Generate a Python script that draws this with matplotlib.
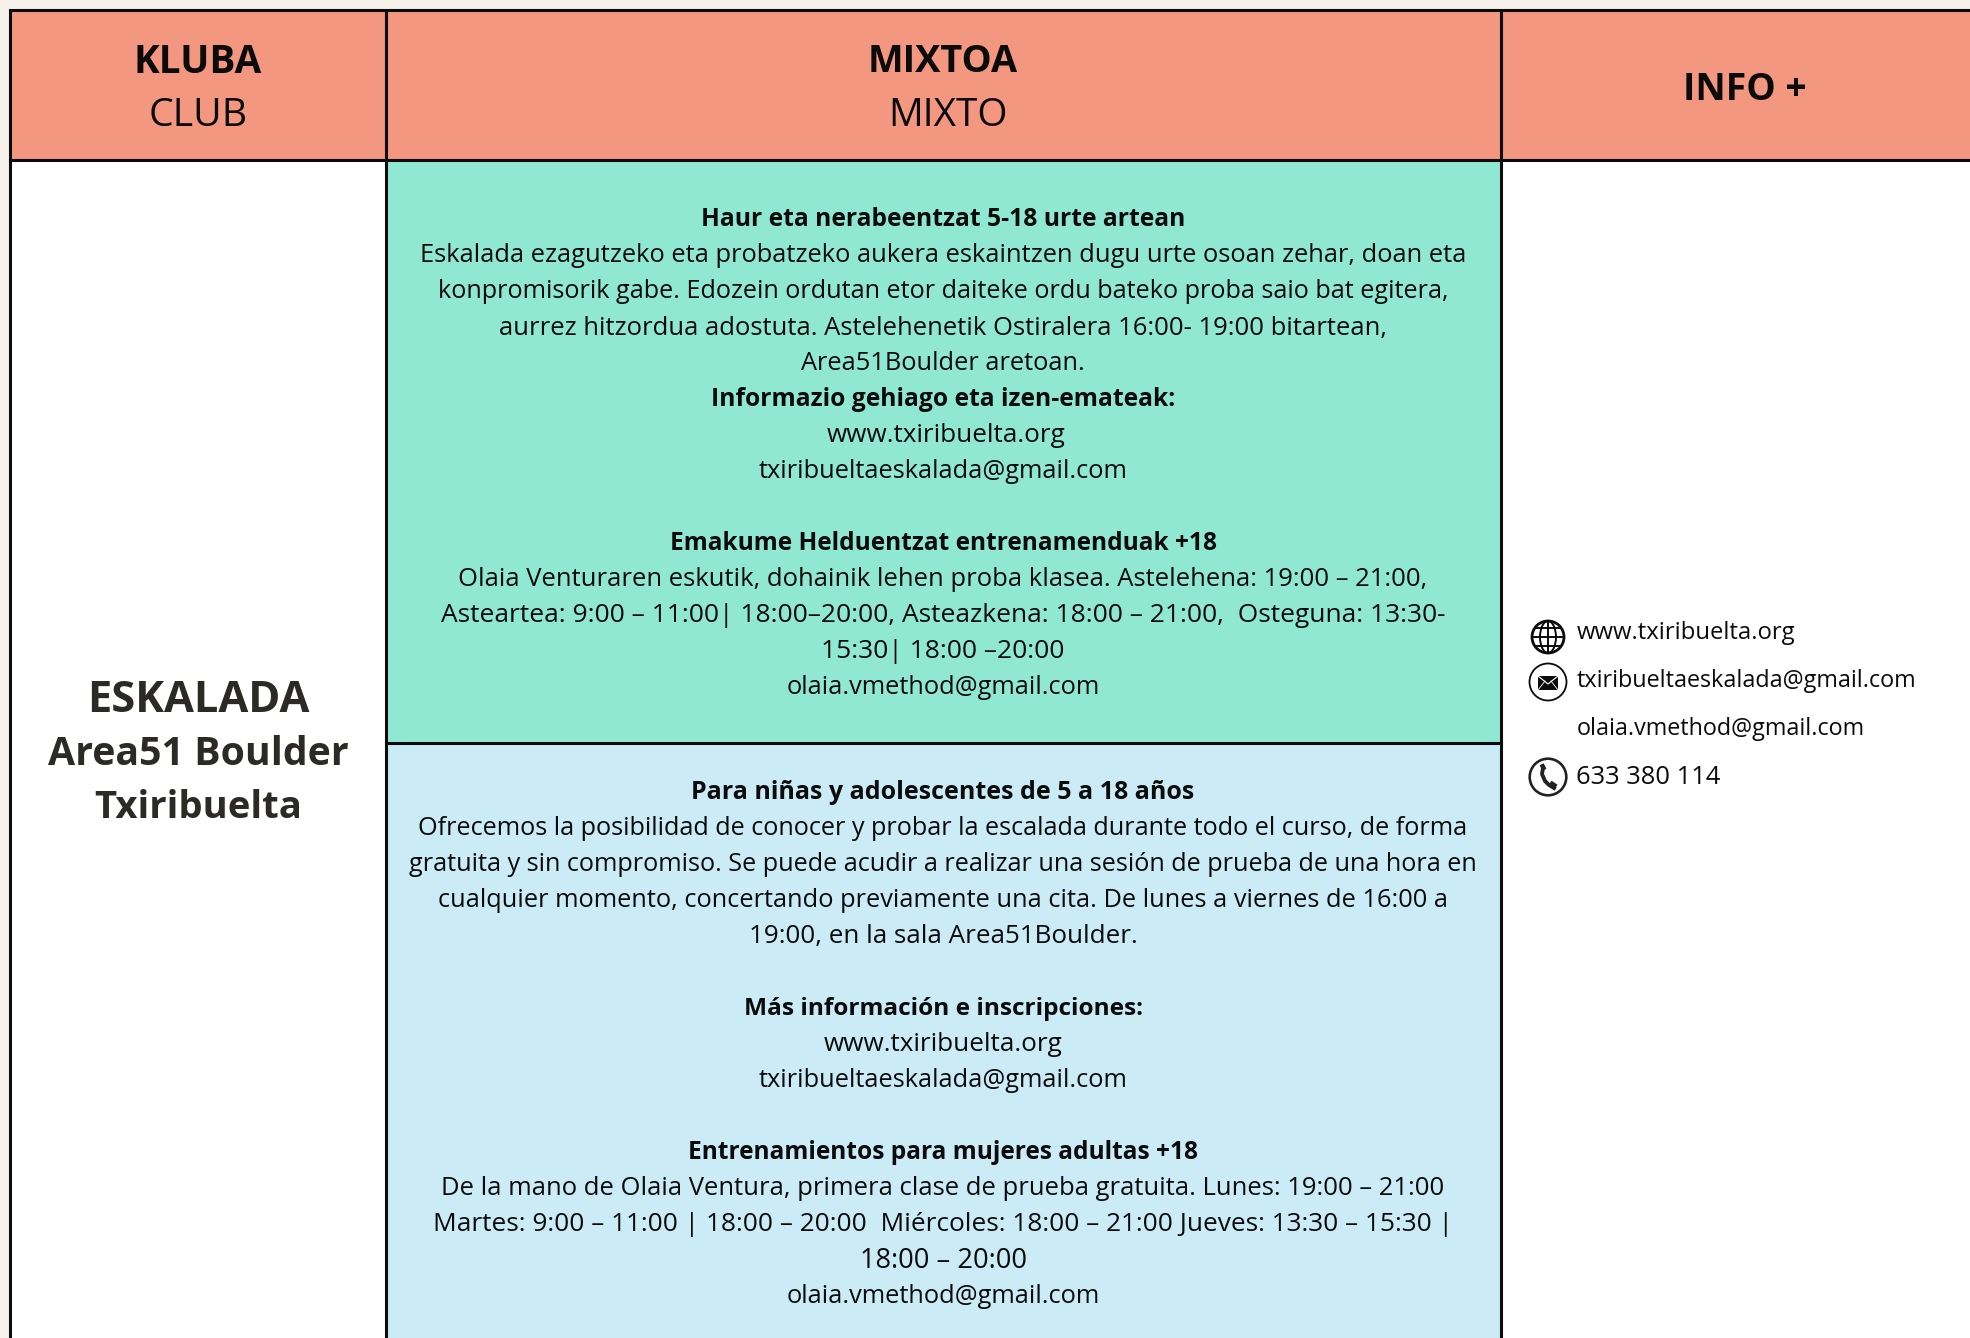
import matplotlib
matplotlib.use("Agg")
import matplotlib.pyplot as plt
from matplotlib.patches import Rectangle, Circle, Ellipse

FONT = "Open Sans"
W, H = 1970, 1338
headers = ["KLUBA", "CLUB", "MIXTOA", "MIXTO"]
info_header = "INFO +"
club_lines = ["ESKALADA", "Area51 Boulder", "Txiribuelta"]
# (text, bold) per row; None = blank row
basque_lines = [
    ("Haur eta nerabeentzat 5-18 urte artean", True),
    ("Eskalada ezagutzeko eta probatzeko aukera eskaintzen dugu urte osoan zehar, doan eta", False),
    ("konpromisorik gabe. Edozein ordutan etor daiteke ordu bateko proba saio bat egitera,", False),
    ("aurrez hitzordua adostuta. Astelehenetik Ostiralera 16:00- 19:00 bitartean,", False),
    ("Area51Boulder aretoan.", False),
    ("Informazio gehiago eta izen-emateak:", True),
    ("www.txiribuelta.org", False),
    ("txiribueltaeskalada@gmail.com", False),
    None,
    ("Emakume Helduentzat entrenamenduak +18", True),
    ("Olaia Venturaren eskutik, dohainik lehen proba klasea. Astelehena: 19:00 – 21:00,", False),
    ("Asteartea: 9:00 – 11:00| 18:00–20:00, Asteazkena: 18:00 – 21:00,  Osteguna: 13:30-", False),
    ("15:30| 18:00 –20:00", False),
    ("olaia.vmethod@gmail.com", False),
]
spanish_lines = [
    ("Para niñas y adolescentes de 5 a 18 años", True),
    ("Ofrecemos la posibilidad de conocer y probar la escalada durante todo el curso, de forma", False),
    ("gratuita y sin compromiso. Se puede acudir a realizar una sesión de prueba de una hora en", False),
    ("cualquier momento, concertando previamente una cita. De lunes a viernes de 16:00 a", False),
    ("19:00, en la sala Area51Boulder.", False),
    None,
    ("Más información e inscripciones:", True),
    ("www.txiribuelta.org", False),
    ("txiribueltaeskalada@gmail.com", False),
    None,
    ("Entrenamientos para mujeres adultas +18", True),
    ("De la mano de Olaia Ventura, primera clase de prueba gratuita. Lunes: 19:00 – 21:00", False),
    ("Martes: 9:00 – 11:00 | 18:00 – 20:00  Miércoles: 18:00 – 21:00 Jueves: 13:30 – 15:30 |", False),
    ("18:00 – 20:00", False),
    ("olaia.vmethod@gmail.com", False),
]
info_lines = ["www.txiribuelta.org", "txiribueltaeskalada@gmail.com", "olaia.vmethod@gmail.com", "633 380 114"]

# styling: per-row width fitting, kept apart from the text
basque_fit = [.97, 1.004, .995, 1.01, 1, .968, 1.027, 1, 1, .965, 1.008, 1.04, 1.037, 1]
spanish_fit = [.985, .995, .996, 1, 1.023, 1, .958, 1.027, 1, 1, .965, 1.008, 1.034, 1.07, 1]
info_sizes = [17.2, 16.8, 16.8, 18.4]
club_sizes = [31.2, 28.3, 27.5]

SALMON, GREEN, BLUE, CREAM, INK = "#F39781", "#90E8D3", "#CBEBF7", "#F6F1EA", "#0B0B0B"
X0, X1, X2, Y0, Y1, Y2 = 10, 386, 1501, 10, 160, 743
BODY = 18.3
LH = 36

fig = plt.figure(figsize=(W / 100, H / 100), dpi=100, facecolor=CREAM)
ax = fig.add_axes([0, 0, 1, 1])
ax.set_xlim(0, W); ax.set_ylim(H, 0); ax.axis("off")

def rect(x0, y0, x1, y1, c):
    ax.add_patch(Rectangle((x0, y0), x1 - x0, y1 - y0, fc=c, ec="none", zorder=1))

rect(X0, Y0, W, H, "white")
rect(X0, Y0, W, Y1, SALMON)
rect(X1, Y1, X2, Y2, GREEN)
rect(X1, Y2, X2, H, BLUE)
for x in (X0, X1, X2):
    ax.plot([x, x], [Y0, H], color=INK, lw=2.2, zorder=3, solid_capstyle="butt")
ax.plot([X0, W], [Y0, Y0], color=INK, lw=2.2, zorder=3)
ax.plot([X0, W], [Y1, Y1], color=INK, lw=2.2, zorder=3)
ax.plot([X1, X2], [Y2, Y2], color=INK, lw=2.2, zorder=3)

def t(x, y, s, size=BODY, bold=False, ha="center", color=INK):
    ax.text(x, y, s, fontsize=size, family=FONT, fontweight="bold" if bold else "normal",
            ha=ha, va="center_baseline", color=color, zorder=4)

for (cx, cy, size, bold), s in zip(((198, 58, 27.8, True), (198, 111, 28.3, False),
                                    (943, 58, 27.3, True), (948, 111, 27.9, False)), headers):
    t(cx, cy, s, size, bold)
t(1745, 85, info_header, 26.8, True)
for y, s, size in zip((696, 750, 804), club_lines, club_sizes):
    t(198, y, s, size, True, color="#2B2A26")

for start, lines, fit, url_x in ((217, basque_lines, basque_fit, 946.5),
                                 (789.8, spanish_lines, spanish_fit, 943)):
    for i, (row, k) in enumerate(zip(lines, fit)):
        if row:
            x = url_x if row[0].startswith("www") else 943
            t(x, start + i * LH, row[0], BODY * k, row[1])

for y, s, size in zip((630, 678, 726, 774), info_lines, info_sizes):
    t(1576.5, y, s, size, ha="left")

# icons
ic = 1548
ax.add_patch(Circle((ic, 637), 16, fc="none", ec=INK, lw=2, zorder=4))
ax.add_patch(Ellipse((ic, 637), 16, 32, fc="none", ec=INK, lw=1.4, zorder=4))
ax.plot([ic, ic], [621, 653], color=INK, lw=1.4, zorder=4)
for yy, half in ((628, 13), (637, 16), (646, 13)):
    ax.plot([ic - half, ic + half], [yy, yy], color=INK, lw=1.4, zorder=4)
ax.add_patch(Circle((ic, 682), 18.5, fc="white", ec=INK, lw=1.3, zorder=4))
ax.add_patch(Rectangle((ic - 10, 676), 20, 14, fc=INK, ec="none", zorder=5))
ax.plot([ic - 10, ic, ic + 10], [676, 684, 676], color="white", lw=0.8, zorder=6)
ax.plot([ic - 10, ic - 3], [690, 681], color="white", lw=0.6, zorder=6)
ax.plot([ic + 10, ic + 3], [690, 681], color="white", lw=0.6, zorder=6)
ax.add_patch(Circle((ic, 777), 18.3, fc="white", ec="#222222", lw=1.9, zorder=4))
ax.plot([ic - 5, ic - 6, ic - 3, ic + 1, ic + 6], [768, 774, 781, 785, 788], color="#222222", lw=2.8, zorder=5)
ax.plot([ic - 7, ic - 3], [768, 766], color="#222222", lw=4.5, zorder=5, solid_capstyle="butt")
ax.plot([ic + 2, ic + 8], [783, 787], color="#222222", lw=4, zorder=5, solid_capstyle="butt")
fig.savefig("out.png", dpi=100, facecolor=CREAM)
